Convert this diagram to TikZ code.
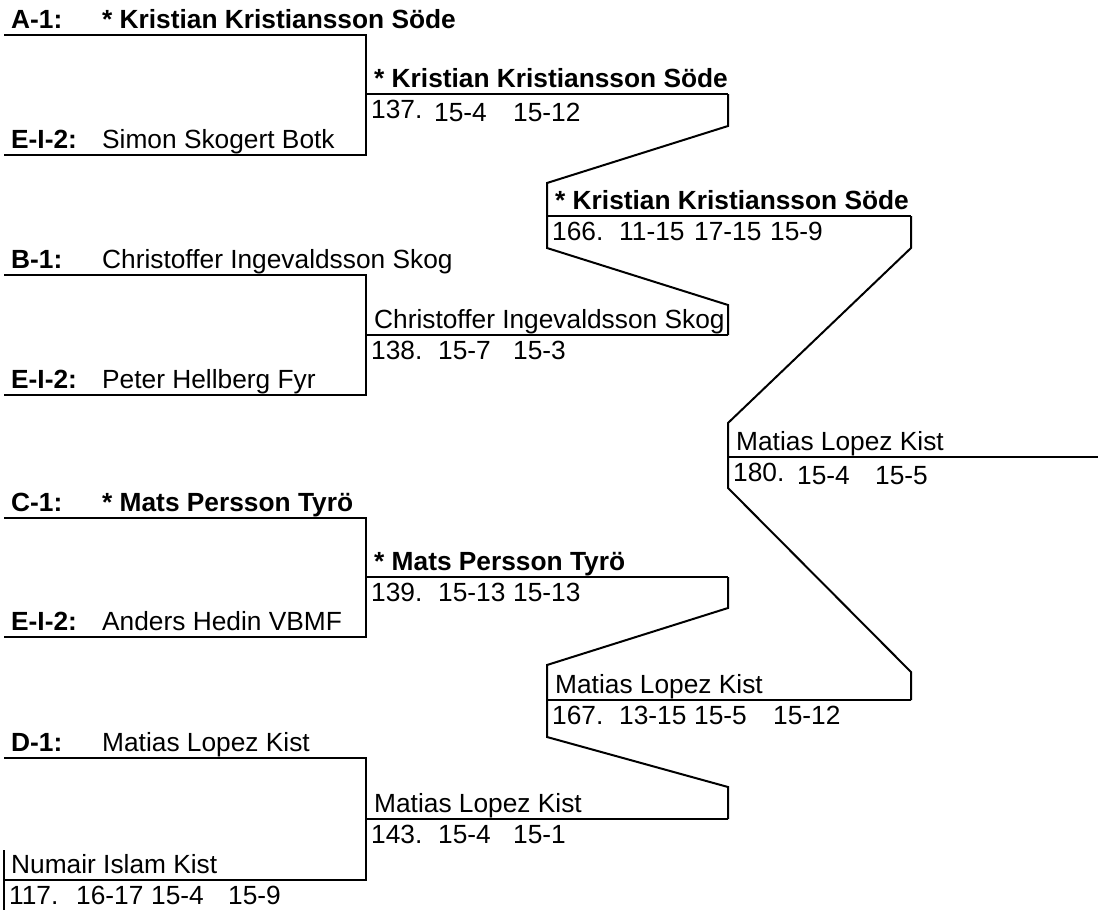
\documentclass[tikz,border=0pt]{standalone}
\usepackage{fontspec}
\setmainfont{Liberation Sans}
\begin{document}
\begin{tikzpicture}[x=1pt,y=-1pt,
  txt/.style={anchor=base west, inner sep=0pt, font=\fontsize{26.3}{30}\selectfont},
  btxt/.style={anchor=base west, inner sep=0pt, font=\fontsize{26.3}{30}\selectfont\bfseries},
  br/.style={draw=black, line width=2pt, line join=miter}]
\useasboundingbox (0,0) rectangle (1098,910);

% ---------- coordinates: round 1 ----------
\coordinate (a1s) at (4,35);   \coordinate (a1e) at (366,35);
\coordinate (a2s) at (4,155);  \coordinate (a2e) at (366,155);
\coordinate (b1s) at (4,275);  \coordinate (b1e) at (366,275);
\coordinate (b2s) at (4,395);  \coordinate (b2e) at (366,395);
\coordinate (c1s) at (4,518);  \coordinate (c1e) at (366,518);
\coordinate (c2s) at (4,637);  \coordinate (c2e) at (366,637);
\coordinate (d1s) at (4,758);  \coordinate (d1e) at (366,758);
\coordinate (d2s) at (4,880);  \coordinate (d2e) at (366,880);
\coordinate (k117t) at (4,850); \coordinate (k117b) at (4,911);
% ---------- round 2 ----------
\coordinate (m137s) at (366,94);  \coordinate (m137e) at (728,94);
\coordinate (m138s) at (366,335); \coordinate (m138e) at (728,335);
\coordinate (m139s) at (366,577); \coordinate (m139e) at (728,577);
\coordinate (m143s) at (366,819); \coordinate (m143e) at (728,819);
% ---------- round 3 ----------
\coordinate (m166s) at (547,216); \coordinate (m166e) at (911,216);
\coordinate (m167s) at (547,700); \coordinate (m167e) at (911,700);
% ---------- final ----------
\coordinate (m180s) at (728,457); \coordinate (m180e) at (1098,457);

% ---------- lines ----------
\draw[br] (a1s) -- (a1e) -- (a2e) -- (a2s);
\draw[br] (b1s) -- (b1e) -- (b2e) -- (b2s);
\draw[br] (c1s) -- (c1e) -- (c2e) -- (c2s);
\draw[br] (d1s) -- (d1e) -- (d2e) -- (d2s);
\draw[br] (k117t) -- (k117b);

\draw[br] (m137s) -- (m137e);
\draw[br] (m138s) -- (m138e);
\draw[br] (m139s) -- (m139e);
\draw[br] (m143s) -- (m143e);
\draw[br] (m166s) -- (m166e);
\draw[br] (m167s) -- (m167e);
\draw[br] (m180s) -- (m180e);

% connectors
\draw[br] (m137e) -- (728,126) -- (547,183) -- (m166s);
\draw[br] (m138e) -- (728,305) -- (547,248) -- (m166s);
\draw[br] (m139e) -- (728,608) -- (547,665) -- (m167s);
\draw[br] (m143e) -- (728,787) -- (547,737) -- (m167s);
\draw[br] (m166e) -- (911,248) -- (728,423) -- (m180s);
\draw[br] (m167e) -- (911,672) -- (728,488) -- (m180s);

% ---------- round 1 texts ----------
\node[btxt] (lA1) at (11,28) {A-1:};
\node[btxt] (nA1) at (102,28) {* Kristian Kristiansson Söde};
\node[btxt] (lA2) at (11,148) {E-I-2:};
\node[txt]  (nA2) at (102,148) {Simon Skogert Botk};
\node[btxt] (lB1) at (11,268) {B-1:};
\node[txt]  (nB1) at (102,268) {Christoffer Ingevaldsson Skog};
\node[btxt] (lB2) at (11,388) {E-I-2:};
\node[txt]  (nB2) at (102,388) {Peter Hellberg Fyr};
\node[btxt] (lC1) at (11,511) {C-1:};
\node[btxt] (nC1) at (102,511) {* Mats Persson Tyrö};
\node[btxt] (lC2) at (11,630) {E-I-2:};
\node[txt]  (nC2) at (102,630) {Anders Hedin VBMF};
\node[btxt] (lD1) at (11,751) {D-1:};
\node[txt]  (nD1) at (102,751) {Matias Lopez Kist};
\node[txt]  (nD2) at (11,873) {Numair Islam Kist};
\node[txt]  (r117)  at (9,904)   {117.};
\node[txt]  (r117a) at (76,904)  {16-17};
\node[txt]  (r117b) at (151,904) {15-4};
\node[txt]  (r117c) at (228,904) {15-9};

% ---------- round 2 texts ----------
\node[btxt] (w137) at (374,87) {* Kristian Kristiansson Söde};
\node[txt]  (r137)  at (371,118) {137.};
\node[txt]  (r137a) at (434,121) {15-4};
\node[txt]  (r137b) at (513,121) {15-12};

\node[txt]  (w138) at (374,328) {Christoffer Ingevaldsson Skog};
\node[txt]  (r138)  at (371,359) {138.};
\node[txt]  (r138a) at (438,359) {15-7};
\node[txt]  (r138b) at (513,359) {15-3};

\node[btxt] (w139) at (374,570) {* Mats Persson Tyrö};
\node[txt]  (r139)  at (371,601) {139.};
\node[txt]  (r139a) at (438,601) {15-13};
\node[txt]  (r139b) at (513,601) {15-13};

\node[txt]  (w143) at (374,812) {Matias Lopez Kist};
\node[txt]  (r143)  at (371,843) {143.};
\node[txt]  (r143a) at (438,843) {15-4};
\node[txt]  (r143b) at (513,843) {15-1};

% ---------- round 3 texts ----------
\node[btxt] (w166) at (555,209) {* Kristian Kristiansson Söde};
\node[txt]  (r166)  at (552,240) {166.};
\node[txt]  (r166a) at (619,240) {11-15};
\node[txt]  (r166b) at (694,240) {17-15};
\node[txt]  (r166c) at (770,240) {15-9};

\node[txt]  (w167) at (555,693) {Matias Lopez Kist};
\node[txt]  (r167)  at (552,724) {167.};
\node[txt]  (r167a) at (619,724) {13-15};
\node[txt]  (r167b) at (694,724) {15-5};
\node[txt]  (r167c) at (773,724) {15-12};

% ---------- final texts ----------
\node[txt]  (w180) at (736,450) {Matias Lopez Kist};
\node[txt]  (r180)  at (733,481) {180.};
\node[txt]  (r180a) at (797,484) {15-4};
\node[txt]  (r180b) at (875,484) {15-5};
\end{tikzpicture}
\end{document}
